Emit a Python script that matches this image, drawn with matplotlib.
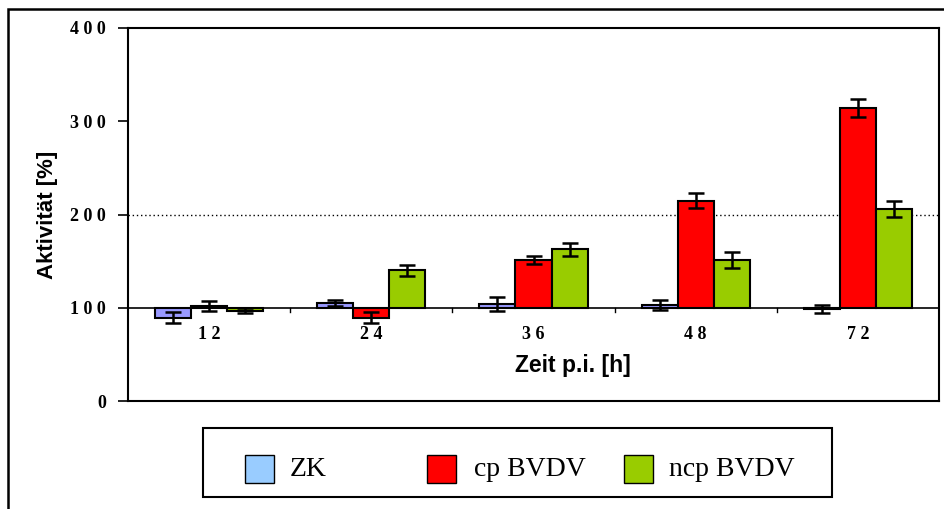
import matplotlib
matplotlib.use("Agg")
import matplotlib.pyplot as plt
from matplotlib.patches import Rectangle
import numpy as np

# Zeitpunkte nach Infektion
times = ["1 2", "2 4", "3 6", "4 8", "7 2"]
series = ["ZK", "cp BVDV", "ncp BVDV"]

# Aktivität in % (bezogen auf 100 %) und Standardabweichung
zk_vals = [89.5, 105, 103.5, 103, 98.5]
zk_err = [6, 3.5, 7.5, 5.5, 4.5]
cp_vals = [101.5, 89.5, 151.5, 215, 314]
cp_err = [5.5, 6, 4.5, 8.5, 9.5]
ncp_vals = [97, 140, 162.5, 151, 206]
ncp_err = [3, 6, 7, 8.5, 9]

yticks = [0, 100, 200, 300, 400]
ytick_labels = ["0", "1 0 0", "2 0 0", "3 0 0", "4 0 0"]

bar_colors = ["#9999FF", "#FF0000", "#99CC00"]
legend_colors = ["#99CCFF", "#FF0000", "#99CC00"]

serif = ["Liberation Serif", "DejaVu Serif"]
sans = ["Liberation Sans", "DejaVu Sans"]

fig = plt.figure(figsize=(9.44, 5.09), dpi=100)
W, H = 944, 509


def fx(px):
    return px / W


def fy(py):
    return 1 - py / H


# äußerer Rahmen
fig.patches.append(Rectangle((fx(8), -0.05), 1.1, fy(9) + 0.05,
                             transform=fig.transFigure, fill=False,
                             edgecolor="black", linewidth=1.8, zorder=0))

ax = fig.add_axes([fx(128), fy(401), (939 - 128) / W, (401 - 28) / H])

x = np.arange(len(times))
w = 1 / 4.5
base = 100
all_vals = [zk_vals, cp_vals, ncp_vals]
all_err = [zk_err, cp_err, ncp_err]
for i, (vals, errs, col) in enumerate(zip(all_vals, all_err, bar_colors)):
    vals = np.array(vals, dtype=float)
    pos = x + (i - 1) * w
    ax.bar(pos, vals - base, bottom=base, width=w, color=col,
           edgecolor="black", linewidth=1.5, zorder=3)
    ax.errorbar(pos, vals, yerr=errs, fmt="none", ecolor="black",
                elinewidth=1.8, capsize=6, capthick=1.8, zorder=4)

# Grundlinie bei 100 % und Hilfslinie bei 200 %
ax.axhline(base, color="black", linewidth=1.2, zorder=2)
ax.axhline(200, color="black", linewidth=1.0, linestyle=(0, (1, 2)), zorder=1)

# Kategorie-Trennstriche auf der Grundlinie
for b in np.arange(0.5, len(times) - 0.5, 1.0):
    ax.plot([b, b], [base, base - 5], color="black", linewidth=1.0, zorder=2)

# Zeitpunkt-Beschriftungen unterhalb der Grundlinie
for xi, lab in zip(x, times):
    ax.text(xi, base - 28.5, lab, ha="center", va="center", fontsize=13,
            fontweight="bold", family=serif)

ax.text(2.24, 38.6, "Zeit p.i. [h]", ha="center", va="center", fontsize=16.5,
        fontweight="bold", family=sans)

ax.set_xlim(-0.5, len(times) - 0.5)
ax.set_ylim(0, 400)
ax.set_xticks([])
ax.set_yticks(yticks)
ax.set_yticklabels(ytick_labels, fontsize=13, fontweight="bold", family=serif)
ax.tick_params(axis="y", direction="out", length=7, width=1.2, pad=9)
for s in ax.spines.values():
    s.set_linewidth(1.5)

fig.text(fx(47), fy(215), "Aktivität [%]", rotation=90, ha="center",
         va="center", fontsize=16, fontweight="bold", family=sans)

# Legende: Rahmen, Farbfelder und Beschriftungen
fig.patches.append(Rectangle((fx(203), fy(497)), (832 - 203) / W, (497 - 428) / H,
                             transform=fig.transFigure, facecolor="white",
                             edgecolor="black", linewidth=1.5, zorder=1))
patch_left = [245, 427, 624]
text_left = [290, 474, 669]
for name, col, pl, tl in zip(series, legend_colors, patch_left, text_left):
    fig.patches.append(Rectangle((fx(pl), fy(483)), 29 / W, 28 / H,
                                 transform=fig.transFigure, facecolor=col,
                                 edgecolor="black", linewidth=1.0, zorder=2))
    fig.text(fx(tl), fy(469), name, ha="left", va="center", fontsize=20,
             family=serif, zorder=3)

fig.savefig("out.png", dpi=100)
